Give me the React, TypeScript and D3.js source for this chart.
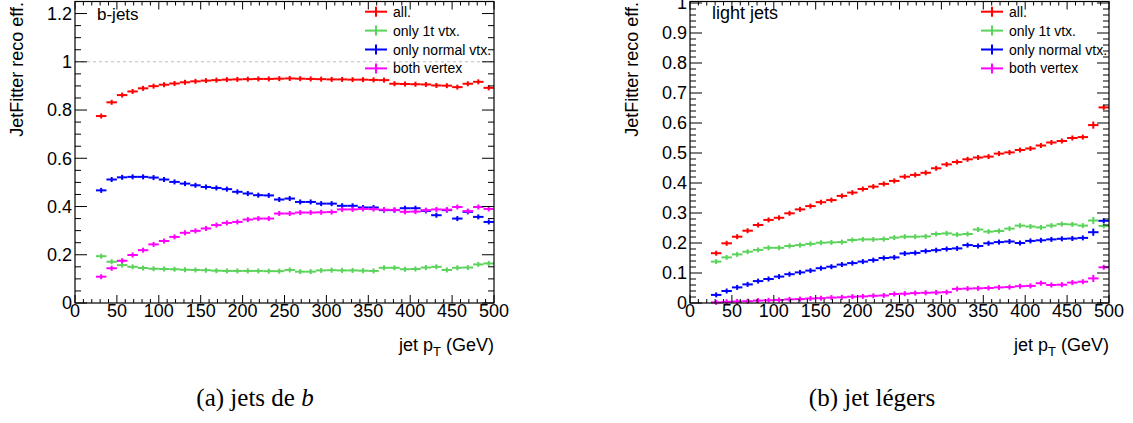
import React from "react";
import * as d3 from "d3";

// ---- data ----
const binLow = [25, 37.5, 50, 62.5, 75, 87.5, 100, 112.5, 125, 137.5, 150, 162.5, 175, 187.5, 200, 212.5, 225, 237.5, 250, 262.5, 275, 287.5, 300, 312.5, 325, 337.5, 350, 362.5, 375, 387.5, 400, 412.5, 425, 437.5, 450, 462.5, 475, 487.5];
const binWidth = 12.5;

const seriesNames = ["all.", "only 1t vtx.", "only normal vtx.", "both vertex"];
const seriesColors = ["#ff0000", "#5ad35a", "#0000ff", "#ff00ff"];

// b-jets
const bAll = [0.775, 0.832, 0.862, 0.877, 0.890, 0.899, 0.905, 0.910, 0.915, 0.919, 0.922, 0.924, 0.926, 0.927, 0.928, 0.929, 0.929, 0.930, 0.931, 0.930, 0.929, 0.928, 0.927, 0.927, 0.926, 0.926, 0.925, 0.924, 0.909, 0.908, 0.907, 0.906, 0.902, 0.901, 0.895, 0.909, 0.917, 0.892];
const bOnly1t = [0.194, 0.171, 0.157, 0.150, 0.145, 0.142, 0.141, 0.140, 0.138, 0.137, 0.136, 0.134, 0.133, 0.133, 0.133, 0.133, 0.132, 0.132, 0.137, 0.130, 0.130, 0.135, 0.136, 0.135, 0.135, 0.134, 0.133, 0.146, 0.146, 0.140, 0.141, 0.147, 0.150, 0.137, 0.146, 0.147, 0.160, 0.164];
const bOnlyNormal = [0.467, 0.512, 0.521, 0.523, 0.523, 0.520, 0.512, 0.502, 0.495, 0.488, 0.481, 0.477, 0.472, 0.461, 0.454, 0.447, 0.446, 0.429, 0.433, 0.419, 0.419, 0.412, 0.412, 0.403, 0.403, 0.396, 0.396, 0.385, 0.385, 0.393, 0.393, 0.382, 0.364, 0.385, 0.350, 0.378, 0.357, 0.336];
const bBoth = [0.109, 0.144, 0.175, 0.199, 0.219, 0.243, 0.257, 0.274, 0.291, 0.299, 0.309, 0.323, 0.332, 0.336, 0.346, 0.350, 0.350, 0.371, 0.371, 0.375, 0.375, 0.376, 0.377, 0.388, 0.388, 0.390, 0.389, 0.387, 0.386, 0.378, 0.379, 0.385, 0.388, 0.387, 0.398, 0.381, 0.398, 0.390];
const bErr = [0.003, 0.003, 0.003, 0.003, 0.003, 0.003, 0.003, 0.003, 0.003, 0.003, 0.003, 0.003, 0.003, 0.003, 0.003, 0.003, 0.003, 0.003, 0.003, 0.003, 0.003, 0.004, 0.004, 0.004, 0.004, 0.005, 0.005, 0.005, 0.006, 0.006, 0.006, 0.007, 0.008, 0.008, 0.009, 0.009, 0.010, 0.006];

// light jets
const lAll = [0.166, 0.199, 0.221, 0.241, 0.260, 0.277, 0.284, 0.299, 0.312, 0.323, 0.336, 0.343, 0.357, 0.368, 0.380, 0.388, 0.397, 0.407, 0.421, 0.427, 0.434, 0.449, 0.462, 0.470, 0.479, 0.485, 0.488, 0.498, 0.502, 0.510, 0.515, 0.525, 0.535, 0.540, 0.550, 0.553, 0.593, 0.652];
const lOnly1t = [0.138, 0.152, 0.162, 0.171, 0.177, 0.184, 0.184, 0.190, 0.193, 0.197, 0.201, 0.202, 0.203, 0.210, 0.212, 0.212, 0.213, 0.218, 0.221, 0.221, 0.222, 0.230, 0.232, 0.228, 0.230, 0.245, 0.238, 0.240, 0.248, 0.258, 0.255, 0.252, 0.258, 0.263, 0.262, 0.258, 0.275, 0.257];
const lOnlyNormal = [0.027, 0.040, 0.052, 0.062, 0.073, 0.080, 0.088, 0.096, 0.102, 0.108, 0.116, 0.121, 0.128, 0.133, 0.138, 0.143, 0.150, 0.152, 0.165, 0.167, 0.173, 0.176, 0.180, 0.182, 0.193, 0.190, 0.199, 0.203, 0.205, 0.200, 0.207, 0.209, 0.212, 0.214, 0.215, 0.217, 0.236, 0.274];
const lBoth = [0.002, 0.004, 0.005, 0.006, 0.008, 0.009, 0.010, 0.012, 0.013, 0.015, 0.016, 0.018, 0.019, 0.021, 0.022, 0.024, 0.025, 0.030, 0.031, 0.033, 0.034, 0.035, 0.036, 0.047, 0.048, 0.049, 0.050, 0.052, 0.053, 0.056, 0.057, 0.066, 0.060, 0.061, 0.068, 0.071, 0.082, 0.119];
const lErr = [0.003, 0.003, 0.003, 0.003, 0.003, 0.003, 0.003, 0.003, 0.003, 0.003, 0.003, 0.003, 0.003, 0.003, 0.003, 0.003, 0.003, 0.003, 0.003, 0.003, 0.004, 0.004, 0.004, 0.005, 0.005, 0.005, 0.006, 0.006, 0.006, 0.006, 0.007, 0.007, 0.007, 0.007, 0.008, 0.008, 0.012, 0.006];

const xTicks = [0, 50, 100, 150, 200, 250, 300, 350, 400, 450, 500];
const yTicksB = [0, 0.2, 0.4, 0.6, 0.8, 1, 1.2];
const yTicksL = [0, 0.1, 0.2, 0.3, 0.4, 0.5, 0.6, 0.7, 0.8, 0.9, 1];

const FONT = "'Liberation Sans', Arial, Helvetica, sans-serif";

type PanelProps = {
  left: number;
  right: number;
  top: number;
  bottom: number;
  yMax: number;
  yTicks: number[];
  yMinorStep: number;
  series: number[][];
  err: number[];
  label: string;
  labelX: number;
  labelY: number;
  labelSize: number;
  legendX: number;
  titleX: number;
  dashedOne: boolean;
};

function Panel(p: PanelProps) {
  const x = d3.scaleLinear().domain([0, 500]).range([p.left, p.right]);
  const y = d3.scaleLinear().domain([0, p.yMax]).range([p.bottom, p.top]);
  const xMinor = d3.range(0, 500.001, 10);
  const yMinor = d3.range(0, p.yMax + 1e-9, p.yMinorStep);
  const ml = 12, mn = 6, xl = 8, xn = 4;
  const fmt = (v: number) => (Number.isInteger(v) ? String(v) : String(+v.toFixed(2)));
  return (
    <g>
      {/* dashed line at 1 */}
      {p.dashedOne && (
        <line x1={p.left} x2={p.right} y1={y(1)} y2={y(1)} stroke="#bbbbbb" strokeWidth={1} strokeDasharray="3 3" />
      )}
      {/* data */}
      {p.series.map((vals, si) => (
        <g key={si} stroke={seriesColors[si]} strokeWidth={2} fill="none">
          {vals.map((v, i) => {
            const x0 = x(binLow[i]);
            const x1 = x(binLow[i] + binWidth);
            const xc = (x0 + x1) / 2;
            const yc = y(v);
            const e = Math.max(y(v - p.err[i]) - yc, 2.5);
            return (
              <g key={i}>
                <line x1={x0} x2={x1} y1={yc} y2={yc} />
                <line x1={xc} x2={xc} y1={yc - e} y2={yc + e} />
              </g>
            );
          })}
        </g>
      ))}
      {/* frame */}
      <rect x={p.left} y={p.top} width={p.right - p.left} height={p.bottom - p.top} fill="none" stroke="#000" strokeWidth={1.2} />
      {/* x ticks */}
      {xMinor.map((t) => {
        const major = xTicks.includes(t);
        const len = major ? xl : xn;
        return (
          <g key={"x" + t} stroke="#000" strokeWidth={1}>
            <line x1={x(t)} x2={x(t)} y1={p.bottom} y2={p.bottom - len} />
            <line x1={x(t)} x2={x(t)} y1={p.top} y2={p.top + len} />
          </g>
        );
      })}
      {/* y ticks */}
      {yMinor.map((t, i) => {
        const major = p.yTicks.some((m) => Math.abs(m - t) < 1e-6);
        const len = major ? ml : mn;
        return (
          <g key={"y" + i} stroke="#000" strokeWidth={1}>
            <line x1={p.left} x2={p.left + len} y1={y(t)} y2={y(t)} />
            <line x1={p.right} x2={p.right - len} y1={y(t)} y2={y(t)} />
          </g>
        );
      })}
      {/* x tick labels */}
      {xTicks.map((t) => (
        <text key={"xl" + t} x={x(t)} y={p.bottom + 14} textAnchor="middle" fontFamily={FONT} fontSize={18} fill="#000">
          {t}
        </text>
      ))}
      {/* y tick labels */}
      {p.yTicks.map((t) => (
        <text key={"yl" + t} x={p.left - 3} y={y(t)} dy="0.35em" textAnchor="end" fontFamily={FONT} fontSize={18} fill="#000">
          {fmt(t)}
        </text>
      ))}
      {/* axis titles */}
      <text x={p.right} y={351} textAnchor="end" fontFamily={FONT} fontSize={18} fill="#000">
        jet p<tspan fontSize={13} dy={5}>T</tspan><tspan dy={-5}> (GeV)</tspan>
      </text>
      <text transform={`translate(${p.titleX},2) rotate(-90)`} textAnchor="end" fontFamily={FONT} fontSize={18} fill="#000">
        JetFitter reco eff.
      </text>
      {/* panel label */}
      <text x={p.labelX} y={p.labelY} fontFamily={FONT} fontSize={p.labelSize} fill="#000">
        {p.label}
      </text>
      {/* legend */}
      {seriesNames.map((n, i) => {
        const cy = 11.7 + i * 18.9;
        return (
          <g key={"lg" + i}>
            <line x1={p.legendX} x2={p.legendX + 22} y1={cy} y2={cy} stroke={seriesColors[i]} strokeWidth={2} />
            <line x1={p.legendX + 11} x2={p.legendX + 11} y1={cy - 5} y2={cy + 5} stroke={seriesColors[i]} strokeWidth={2} />
            <text x={p.legendX + 28} y={cy + 5} fontFamily={FONT} fontSize={14} fill="#000">
              {n}
            </text>
          </g>
        );
      })}
    </g>
  );
}

export default function App() {
  return (
    <svg width={1133} height={423} style={{ position: "absolute", left: 0, top: 0, background: "#fff" }}>
      <rect x={0} y={0} width={1133} height={423} fill="#fff" />
      <Panel
        left={75}
        right={494}
        top={1.5}
        bottom={303}
        yMax={1.25}
        yTicks={yTicksB}
        yMinorStep={0.05}
        series={[bAll, bOnly1t, bOnlyNormal, bBoth]}
        err={bErr}
        label="b-jets"
        labelX={97}
        labelY={20}
        labelSize={17}
        legendX={365}
        titleX={23}
        dashedOne={true}
      />
      <Panel
        left={690}
        right={1109}
        top={1.5}
        bottom={303}
        yMax={1.005}
        yTicks={yTicksL}
        yMinorStep={0.02}
        series={[lAll, lOnly1t, lOnlyNormal, lBoth]}
        err={lErr}
        label="light jets"
        labelX={712}
        labelY={19}
        labelSize={18}
        legendX={981}
        titleX={638}
        dashedOne={false}
      />
      <text x={255} y={406} textAnchor="middle" fontFamily="'Liberation Serif', 'Times New Roman', serif" fontSize={25} fill="#000">
        (a) jets de <tspan fontStyle="italic">b</tspan>
      </text>
      <text x={872} y={406} textAnchor="middle" fontFamily="'Liberation Serif', 'Times New Roman', serif" fontSize={25} fill="#000">
        (b) jet légers
      </text>
    </svg>
  );
}
